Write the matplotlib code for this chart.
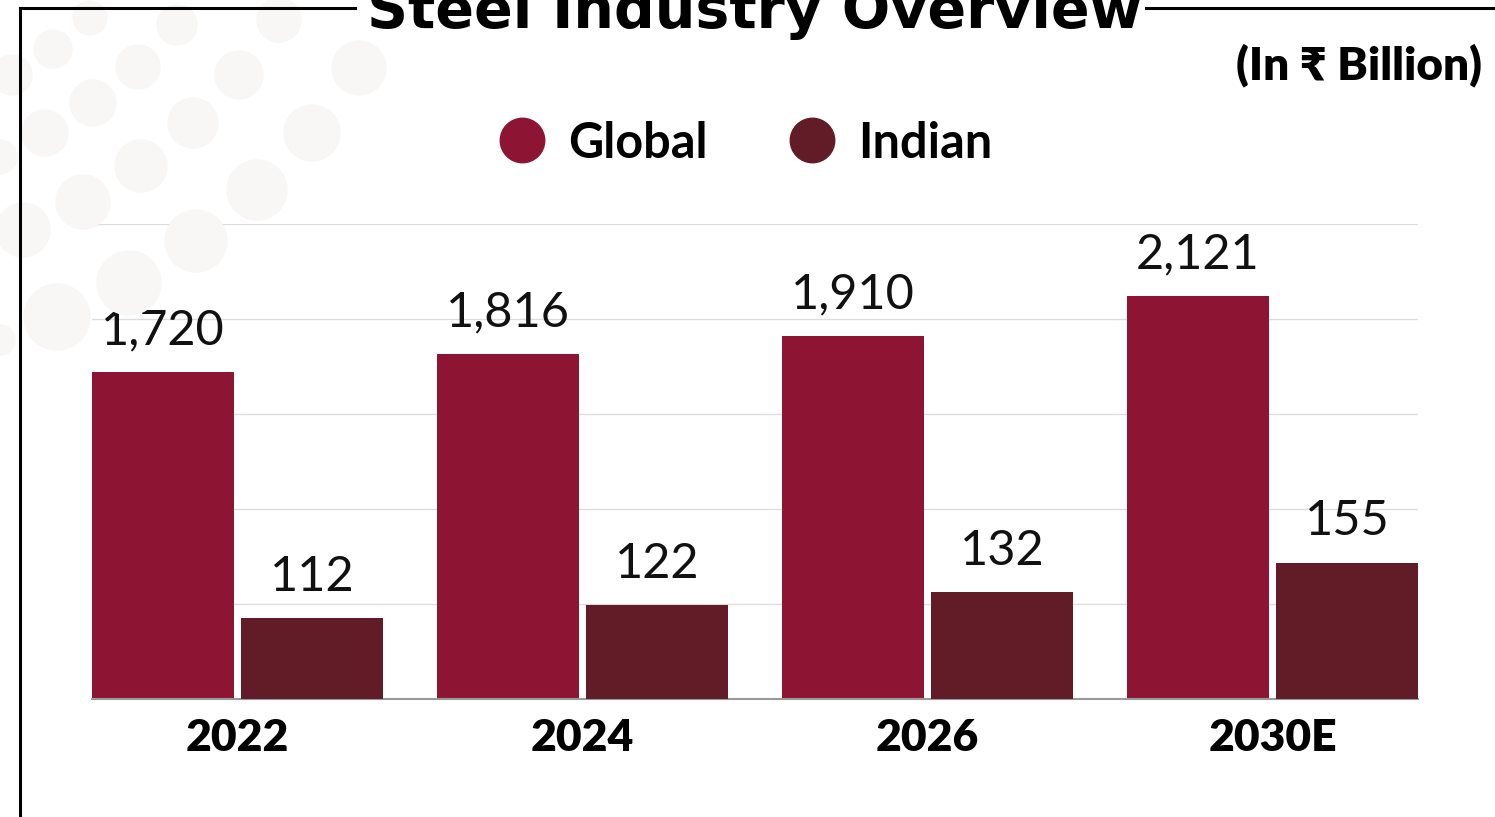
import matplotlib
matplotlib.use('Agg')
import matplotlib.pyplot as plt
import numpy as np
from matplotlib.lines import Line2D
from matplotlib.patches import Circle

years = ['2022', '2024', '2026', '2030E']
global_vals = [1720, 1816, 1910, 2121]
indian_vals = [112, 122, 132, 155]
series_names = ['Global', 'Indian']
colors = ['#8E1433', '#621C28']

W, H = 1495, 817
fig = plt.figure(figsize=(W / 100, H / 100), dpi=100)
fig.patch.set_facecolor('white')

# faint decorative dots, top-left corner (figure pixels)
dots = [(90, 18, 17), (177, 25, 20), (279, 20, 22), (53, 49, 19), (12, 75, 20),
        (138, 67, 22), (239, 75, 24), (359, 68, 27), (93, 103, 23), (193, 123, 25),
        (45, 133, 23), (312, 133, 28), (0, 157, 17), (141, 166, 26), (257, 190, 30),
        (83, 202, 27), (23, 230, 27), (196, 241, 31), (129, 283, 32), (57, 317, 33),
        (0, 340, 15)]
for x, y, r in dots:
    fig.patches.append(Circle((x, H - y), r, transform=None, color='#F9F6F6',
                              zorder=0))

# frame lines around the title
fig.add_artist(Line2D([20 / W, 355 / W], [1 - 8 / H] * 2, color='black', lw=2.2))
fig.add_artist(Line2D([1146 / W, 1], [1 - 8 / H] * 2, color='black', lw=2.2))
fig.add_artist(Line2D([20 / W, 20 / W], [0, 1 - 8 / H], color='black', lw=2.2))

fam = ['Lato', 'DejaVu Sans']
fig.text(755 / W, 1 - 28 / H, 'Steel Industry Overview', ha='center', va='baseline',
         fontsize=41, fontweight='bold', family='DejaVu Sans')
fig.text(1482 / W, 1 - 65 / H, '(In ₹ Billion)', ha='right', va='center',
         fontsize=33, fontweight='heavy', family=fam)

ax = fig.add_axes([92 / W, (H - 699) / H, 1326 / W, 475 / H])
ax2 = ax.twinx()

x = np.arange(len(years))
bw = 0.4116
off = 0.2159
b1 = ax.bar(x - off, global_vals, bw, color=colors[0], zorder=2)
b2 = ax2.bar(x + off, indian_vals, bw, color=colors[1], zorder=2)

ax.set_ylim(0, 2500)
ax.set_yticks(np.arange(0, 2501, 500))
ax2.set_ylim(50, 415.7)
ax.set_xlim(-0.4217, 3.4217)
ax.grid(True, axis='y', color='#DDDDDD', lw=1)
ax.set_axisbelow(True)

for a in (ax, ax2):
    for s in a.spines.values():
        s.set_visible(False)
    a.tick_params(axis='y', left=False, right=False, labelleft=False, labelright=False)
ax.spines['bottom'].set_visible(True)
ax.spines['bottom'].set_color('#999999')
ax.spines['bottom'].set_linewidth(1.5)

ax.set_xticks(x)
ax.set_xticklabels(years, fontsize=32, fontweight='heavy', family=fam)
ax.tick_params(axis='x', length=0, pad=14)

for a, bars, vals in ((ax, b1, global_vals), (ax2, b2, indian_vals)):
    for bar, v in zip(bars, vals):
        a.annotate(f'{v:,}', (bar.get_x() + bar.get_width() / 2, bar.get_height()),
                   xytext=(0, 14), textcoords='offset points', ha='center',
                   va='bottom', fontsize=35, family=fam, color='#111111')

handles = [Line2D([], [], marker='o', ls='', markersize=32, color=c) for c in colors]
fig.legend(handles, series_names, loc='center', bbox_to_anchor=(745 / W, 1 - 143 / H),
           ncol=2, frameon=False, handlelength=1.0, handletextpad=0.45,
           columnspacing=1.65, prop={'family': fam, 'weight': 'bold', 'size': 35})

fig.savefig('out.png', dpi=100)
